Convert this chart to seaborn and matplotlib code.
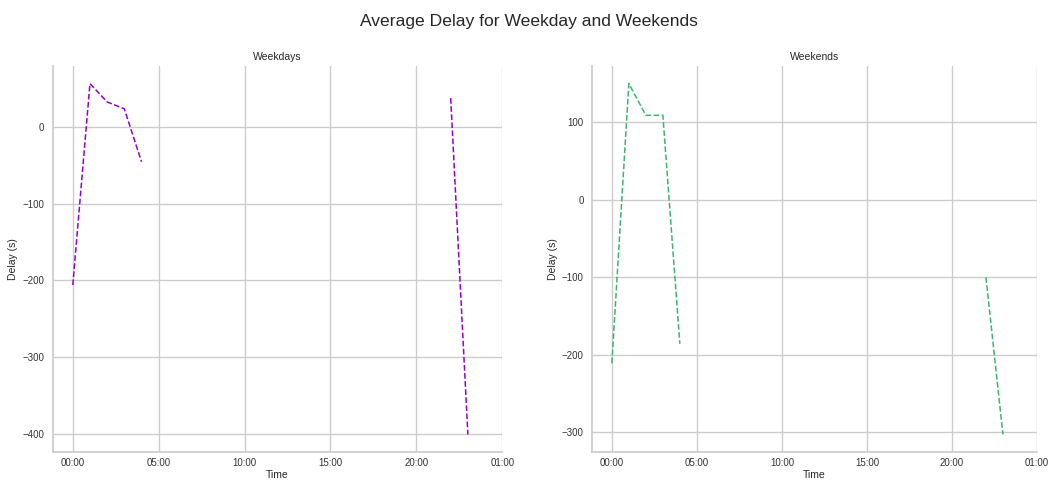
import numpy as np
import pandas as pd
import seaborn as sns
import matplotlib
matplotlib.use("Agg")
import matplotlib.pyplot as plt
import matplotlib.dates as mdates

# hours of day with data (gap between 04:00 and 22:00)
hours = [0, 1, 2, 3, 4, 22, 23]
weekday_delay = [-206, 57, 33, 24, -45, 38, -401]
weekend_delay = [-211, 150, 109, 109, -186, -100, -303]
tick_hours = [0, 5, 10, 15, 20, 25]

sns.set_theme(style="whitegrid")
plt.rcParams["font.family"] = ["Liberation Sans", "DejaVu Sans"]

base = pd.Timestamp("2020-01-01")
all_hours = np.arange(0, 24)


def make_df(values):
    # full day, missing hours left as NaN so the line breaks
    s = pd.Series(np.nan, index=all_hours)
    s[hours] = values
    return pd.DataFrame({"Time": base + pd.to_timedelta(all_hours, unit="h"),
                         "Delay": s.values})


fig, axes = plt.subplots(1, 2, figsize=(10.58, 4.84), dpi=100)
fig.suptitle("Average Delay for Weekday and Weekends", fontsize=12.6, y=0.972)

panels = [("Weekdays", weekday_delay, "darkviolet"),
          ("Weekends", weekend_delay, "mediumseagreen")]

for ax, (title, vals, c) in zip(axes, panels):
    df = make_df(vals)
    ax.plot(df["Time"], df["Delay"], color=c, linestyle="--", linewidth=1.1)
    ax.set_title(title, fontsize=7.5, pad=4)
    ax.set_xlabel("Time", fontsize=7.5, labelpad=1)
    ax.set_ylabel("Delay (s)", fontsize=7.5, labelpad=3)
    ticks = [base + pd.Timedelta(hours=h) for h in tick_hours]
    ax.set_xticks(ticks)
    ax.xaxis.set_major_formatter(mdates.DateFormatter("%H:%M"))
    ax.set_xlim(base - pd.Timedelta(hours=1.17), base + pd.Timedelta(hours=25))
    ax.tick_params(axis="both", labelsize=7, length=0, colors="#333333")
    ax.tick_params(axis="x", pad=4.5)
    ax.tick_params(axis="y", pad=6)
    for sp in ax.spines.values():
        sp.set_color("#cccccc")
    sns.despine(ax=ax)

axes[0].set_position([0.0498, 0.0661, 0.4249, 0.7975])
axes[1].set_position([0.5595, 0.0661, 0.4206, 0.7975])

fig.savefig("out.png", dpi=100)
